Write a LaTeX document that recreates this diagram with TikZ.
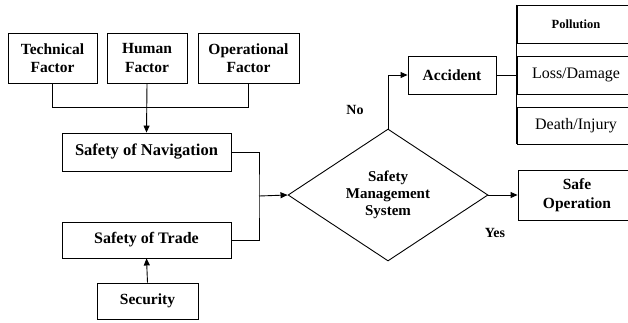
\documentclass[tikz,border=0pt]{standalone}
\usepackage{fontspec}
\setmainfont{Liberation Serif}
\usetikzlibrary{shapes.geometric,arrows.meta}
\begin{document}
\begin{tikzpicture}[x=1pt,y=-1pt,
  box/.style={draw, line width=0.9pt, inner sep=0pt, align=center, font=\fontsize{15.5}{18.5}\selectfont\bfseries},
  rbox/.style={draw, line width=0.9pt, inner sep=0pt, align=center, font=\fontsize{16}{18}\selectfont},
  arr/.style={-{Triangle[length=7pt,width=6pt]}, line width=0.9pt},
  ln/.style={line width=0.9pt},
  lbl/.style={font=\fontsize{14}{16}\selectfont\bfseries, inner sep=0pt}]
\clip (0,0) rectangle (628,322);
\node[box, minimum width=89pt, minimum height=50pt] (tech) at (52.5,58) {Technical\\Factor};
\node[box, minimum width=80pt, minimum height=50pt] (human) at (147,58) {Human\\Factor};
\node[box, minimum width=101pt, minimum height=50pt] (oper) at (248.5,58) {Operational\\Factor};
\node[box, minimum width=169pt, minimum height=38pt, font=\fontsize{16.5}{18}\selectfont\bfseries] (nav) at (146.5,152) {Safety of Navigation};
\node[box, minimum width=169pt, minimum height=36pt, font=\fontsize{16}{18}\selectfont\bfseries] (trade) at (146.5,240) {Safety of Trade};
\node[box, minimum width=101pt, minimum height=36pt] (sec) at (147.5,301) {Security};
\node[box, diamond, minimum width=200pt, minimum height=124pt, font=\fontsize{15}{17}\selectfont\bfseries] (dia) at (388,195) {Safety\\Management\\System};
\node[box, minimum width=88pt, minimum height=38pt] (acc) at (452,75) {Accident};
\node[box, minimum width=118pt, minimum height=38pt, font=\fontsize{12.5}{14}\selectfont\bfseries] (poll) at (576,24) {Pollution};
\node[rbox, minimum width=118pt, minimum height=38pt] (loss) at (576,75) {Loss/Damage};
\node[rbox, minimum width=118pt, minimum height=37pt] (death) at (576,125.5) {Death/Injury};
\node[box, minimum width=118pt, minimum height=50pt] (safe) at (577,195) {Safe\\Operation};
\node[lbl] (no) at (355,110) {No};
\node[lbl] (yes) at (495,233) {Yes};
\coordinate (j) at (259,196);
\draw[ln] (poll.north west) -- (death.south west);
\draw[ln] (tech.south) -- ++(0,24) -| (oper.south);
\draw[arr] (human.south) -- (nav.north);
\draw[ln] (nav.east) -| (j) |- (trade.east);
\draw[arr] (j) -- (dia.west);
\draw[arr] (dia.north) |- (acc.west);
\draw[ln] (acc.east) -- (loss.west);
\draw[arr] (dia.east) -- (safe.west);
\draw[arr] (sec.north) -- (trade.south);
\end{tikzpicture}
\end{document}
